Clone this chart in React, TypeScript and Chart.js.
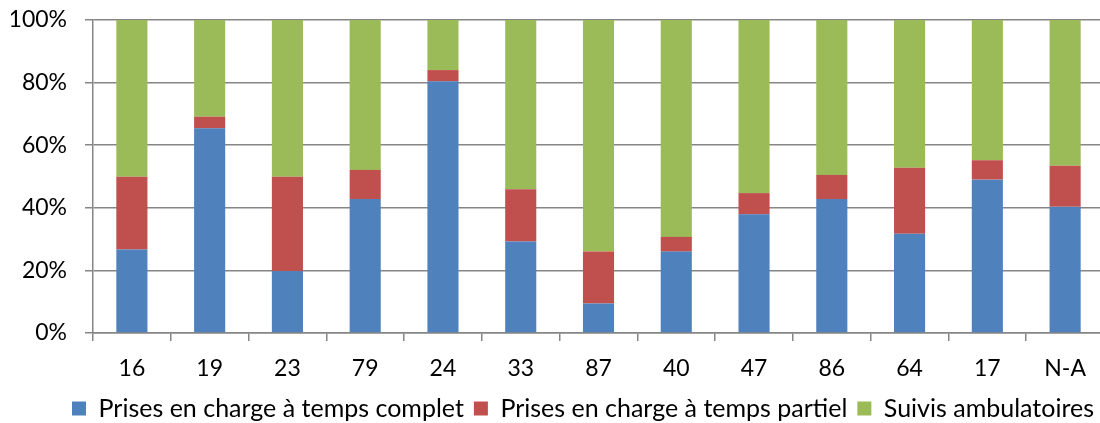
import React, { useEffect, useRef } from "react";
import { Chart, registerables } from "chart.js";

Chart.register(...registerables);

const categories = ["16", "19", "23", "79", "24", "33", "87", "40", "47", "86", "64", "17", "N-A"];
const complet = [26.7, 65.4, 19.8, 42.8, 80.4, 29.2, 9.4, 26.0, 37.9, 42.8, 31.7, 49.0, 40.3];
const partiel = [23.2, 3.7, 30.1, 9.3, 3.6, 16.7, 16.6, 4.7, 6.8, 7.7, 21.1, 6.2, 13.1];
const ambulatoire = [50.1, 30.9, 50.1, 47.9, 16.0, 54.1, 74.0, 69.3, 55.3, 49.5, 47.2, 44.8, 46.6];
const seriesNames = [
  "Prises en charge à temps complet",
  "Prises en charge à temps partiel",
  "Suivis ambulatoires",
];
const yTicks = [0, 20, 40, 60, 80, 100];

const FONT = "Lato";

export default function App() {
  const ref = useRef<HTMLCanvasElement>(null);
  useEffect(() => {
    if (!ref.current) return;
    const chart = new Chart(ref.current, {
      type: "bar",
      data: {
        labels: categories,
        datasets: [
          { label: seriesNames[0], data: complet, backgroundColor: "#4F81BD" },
          { label: seriesNames[1], data: partiel, backgroundColor: "#C0504D" },
          { label: seriesNames[2], data: ambulatoire, backgroundColor: "#9BBB59" },
        ].map((d) => ({ ...d, barPercentage: 0.4, categoryPercentage: 1 })),
      },
      options: {
        animation: false,
        responsive: false,
        layout: { padding: { top: 0, left: 11, right: 0, bottom: -8 } },
        plugins: {
          tooltip: { enabled: false },
          legend: {
            position: "bottom",
            align: "end",
            labels: {
              boxWidth: 14,
              boxHeight: 14,
              padding: 10,
              color: "#000",
              font: { family: FONT, size: 25 },
            },
          },
        },
        scales: {
          x: {
            stacked: true,
            afterFit: (scale: any) => {
              scale.height = 53;
            },
            grid: {
              display: true,
              offset: true,
              drawOnChartArea: false,
              drawTicks: true,
              tickLength: 8,
              color: "#868686",
              lineWidth: 1.5,
            },
            border: { display: true, color: "#868686", width: 1.5 },
            ticks: { color: "#000", font: { family: FONT, size: 23 }, padding: 14, maxRotation: 0 },
          },
          y: {
            stacked: true,
            min: 0,
            max: 100,
            afterFit: (scale: any) => {
              scale.width = 82;
              scale.paddingTop = 20;
              scale.paddingBottom = 0;
            },
            afterBuildTicks: (axis: any) => {
              axis.ticks = yTicks.map((v) => ({ value: v }));
            },
            grid: {
              color: "#868686",
              lineWidth: 1.5,
              tickLength: 8,
            },
            border: { display: true, color: "#868686", width: 1.5 },
            ticks: {
              color: "#000",
              font: { family: FONT, size: 23 },
              padding: 18,
              callback: (v: any) => v + "%",
            },
          },
        },
      },
    });
    return () => chart.destroy();
  }, []);
  return (
    <div style={{ position: "absolute", left: 0, top: 0, width: 1100, height: 423, overflow: "hidden", background: "#fff" }}>
      <canvas ref={ref} width={1104} height={423} style={{ width: 1104, height: 423, display: "block" }} />
    </div>
  );
}
